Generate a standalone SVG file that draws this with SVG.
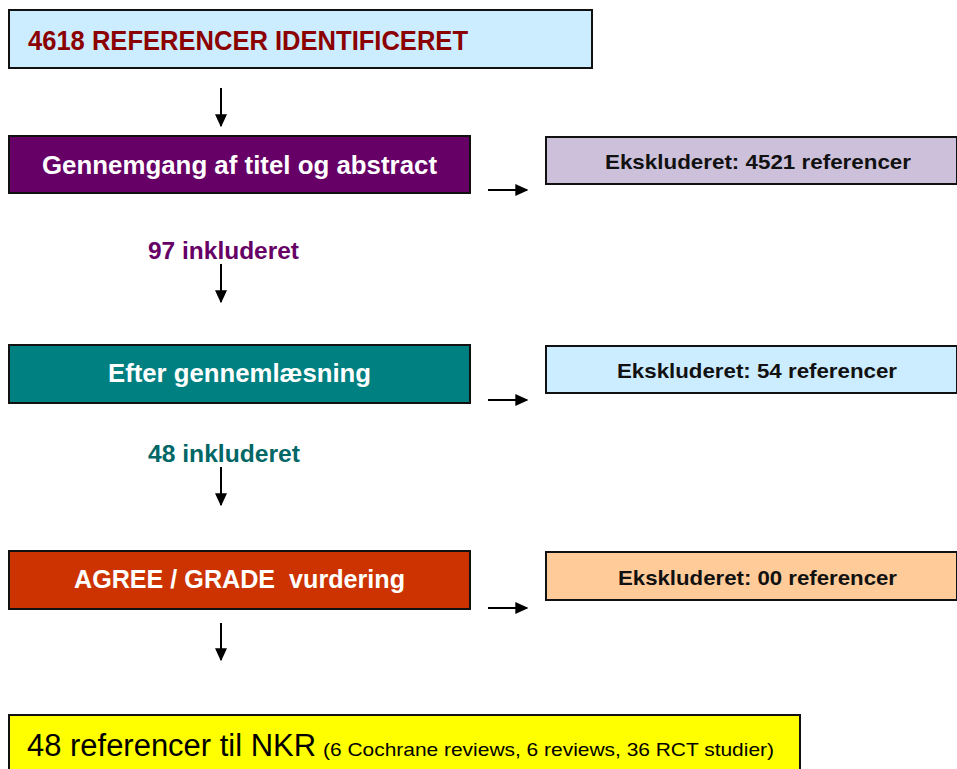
<svg xmlns="http://www.w3.org/2000/svg" width="957" height="769" viewBox="0 0 957 769">
<defs>
<marker id="ahd" viewBox="0 0 10 10" refX="9" refY="5" markerWidth="13" markerHeight="12" markerUnits="userSpaceOnUse" orient="auto" preserveAspectRatio="none">
<path d="M0,0 L10,5 L0,10 z" fill="#000"/>
</marker>
<style>
.box{stroke:#111;stroke-width:2}
text{font-family:"Liberation Sans",Arial,sans-serif;font-weight:bold}
.w{fill:#fff;font-size:26px}
.ex{fill:#111;font-size:21px}
.conn{stroke:#000;stroke-width:2;fill:none}
</style>
</defs>
<rect width="957" height="769" fill="#fff"/>
<g id="n-identified">
<rect x="9" y="10" width="583" height="58" fill="#CCECFF" class="box"/>
<text x="28" y="50" font-size="27" fill="#8B0000" textLength="440" lengthAdjust="spacingAndGlyphs">4618 REFERENCER IDENTIFICERET</text>
</g>
<g id="n-screen">
<rect x="9" y="136" width="461" height="57" fill="#660066" class="box"/>
<text x="42" y="174" class="w" textLength="395" lengthAdjust="spacingAndGlyphs">Gennemgang af titel og abstract</text>
</g>
<g id="n-excl1">
<rect x="546" y="137" width="411" height="47" fill="#CCC0DA" class="box"/>
<text x="605" y="169" class="ex" textLength="306" lengthAdjust="spacingAndGlyphs">Ekskluderet: 4521 referencer</text>
</g>
<g id="l-97">
<text x="148" y="259" font-size="23" fill="#660066" textLength="151" lengthAdjust="spacingAndGlyphs">97 inkluderet</text>
</g>
<g id="n-read">
<rect x="9" y="345" width="461" height="58" fill="#008080" class="box"/>
<text x="108" y="382" class="w" textLength="263" lengthAdjust="spacingAndGlyphs">Efter gennemlæsning</text>
</g>
<g id="n-excl2">
<rect x="546" y="346" width="411" height="47" fill="#CCECFF" class="box"/>
<text x="617" y="378" class="ex" textLength="280" lengthAdjust="spacingAndGlyphs">Ekskluderet: 54 referencer</text>
</g>
<g id="l-48">
<text x="148" y="462" font-size="23" fill="#006666" textLength="152" lengthAdjust="spacingAndGlyphs">48 inkluderet</text>
</g>
<g id="n-agree">
<rect x="9" y="551" width="461" height="58" fill="#CC3300" class="box"/>
<text x="74" y="588" class="w" style="white-space:pre" xml:space="preserve" textLength="331" lengthAdjust="spacingAndGlyphs">AGREE / GRADE  vurdering</text>
</g>
<g id="n-excl3">
<rect x="546" y="552" width="411" height="48" fill="#FFCC99" class="box"/>
<text x="618" y="585" class="ex" textLength="279" lengthAdjust="spacingAndGlyphs">Ekskluderet: 00 referencer</text>
</g>
<g id="n-result">
<rect x="9" y="715" width="791" height="70" fill="#FFFF00" class="box"/>
<text x="27" y="756" font-size="31" style="font-weight:normal" fill="#000" textLength="289" lengthAdjust="spacingAndGlyphs">48 referencer til NKR</text>
<text x="323" y="756" font-size="19" style="font-weight:normal" fill="#000" textLength="451" lengthAdjust="spacingAndGlyphs">(6 Cochrane reviews, 6 reviews, 36 RCT studier)</text>
</g>
<g id="connectors">
<line x1="221" y1="88" x2="221" y2="126" class="conn" marker-end="url(#ahd)"/>
<line x1="221" y1="264" x2="221" y2="302" class="conn" marker-end="url(#ahd)"/>
<line x1="221" y1="467" x2="221" y2="505" class="conn" marker-end="url(#ahd)"/>
<line x1="221" y1="623" x2="221" y2="660" class="conn" marker-end="url(#ahd)"/>
<line x1="488" y1="190" x2="527" y2="190" class="conn" marker-end="url(#ahd)"/>
<line x1="488" y1="400" x2="527" y2="400" class="conn" marker-end="url(#ahd)"/>
<line x1="488" y1="608" x2="527" y2="608" class="conn" marker-end="url(#ahd)"/>
</g>
</svg>
